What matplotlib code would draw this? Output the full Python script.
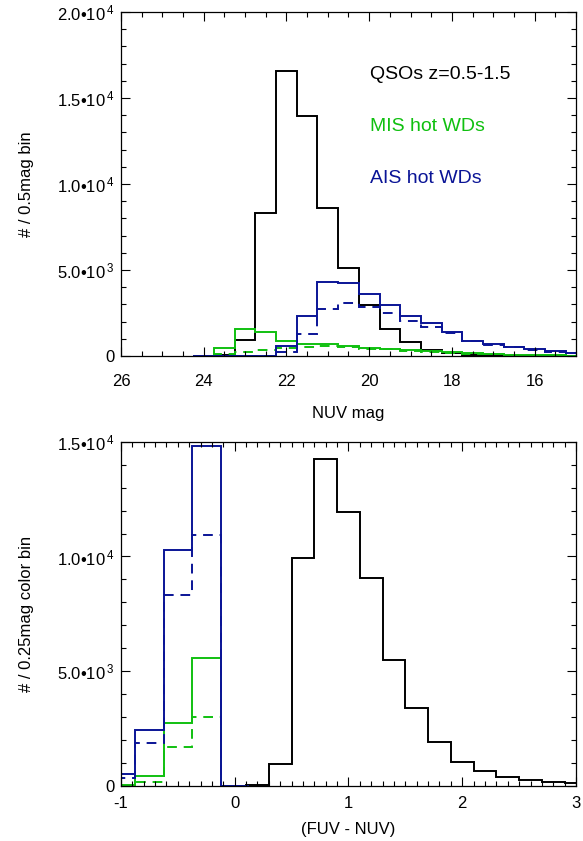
import numpy as np
import matplotlib
matplotlib.use('Agg')
import matplotlib.pyplot as plt
from matplotlib.ticker import FixedLocator, FixedFormatter, MultipleLocator

plt.rcParams['font.family'] = ['Liberation Sans', 'DejaVu Sans']
plt.rcParams['mathtext.fontset'] = 'custom'
plt.rcParams['mathtext.rm'] = 'Liberation Sans'
plt.rcParams['mathtext.it'] = 'Liberation Sans'

BLACK = 'black'
GREEN = '#10c010'
BLUE = '#0a1496'

# top panel: NUV mag, 0.5 mag bins (bin centres)
nuv_centres = [24.0, 23.5, 23.0, 22.5, 22.0, 21.5, 21.0, 20.5, 20.0, 19.5,
               19.0, 18.5, 18.0, 17.5, 17.0, 16.5, 16.0, 15.5, 15.0]
nuv_qso = [0, 50, 930, 8300, 16600, 13950, 8600, 5100, 2950, 1550,
           810, 350, 155, 60, 30, 15, 5, 0, 0]
nuv_mis = [0, 480, 1550, 1370, 870, 700, 680, 580, 470, 425,
           350, 290, 215, 155, 116, 77, 60, 40, 20]
nuv_mis_dash = [0, 100, 250, 350, 445, 500, 560, 500, 400, 380,
                310, 250, 190, 140, 100, 70, 50, 35, 20]
nuv_ais = [0, 0, 0, 0, 580, 2340, 4320, 4260, 3600, 2960,
           2340, 1940, 1410, 890, 700, 540, 390, 290, 190]
nuv_ais_dash = [0, 0, 0, 0, 230, 1280, 2710, 3110, 2860, 2480,
                2030, 1660, 1320, 890, 640, 500, 350, 260, 160]

# bottom panel: FUV-NUV colour
qso_col_centres = [0.0, 0.2, 0.4, 0.6, 0.8, 1.0, 1.2, 1.4, 1.6, 1.8,
                   2.0, 2.2, 2.4, 2.6, 2.8, 3.0]
qso_col = [0, 30, 940, 9930, 14230, 11920, 9060, 5510, 3390, 1930,
           1030, 650, 380, 260, 170, 115]
wd_col_centres = [-1.0, -0.75, -0.5, -0.25, 0.0]
ais_col = [520, 2435, 10280, 14830, 0]
ais_col_dash = [360, 1860, 8320, 10930, 0]
mis_col = [60, 435, 2750, 5580, 0]
mis_col_dash = [20, 190, 1700, 3010, 0]


def hist(ax, centres, vals, width, color, ls='-'):
    c = np.asarray(centres, float)
    v = np.asarray(vals, float)
    o = np.argsort(c)
    c, v = c[o], v[o]
    edges = np.append(c - width / 2, c[-1] + width / 2)
    st = ax.stairs(v, edges, color=color, lw=1.4, baseline=0)
    if ls != '-':
        st.set_linestyle((0, (5, 3.5)))


def style(ax, xpad):
    ax.tick_params(which='both', direction='in', top=True, right=True,
                   labelsize=12)
    ax.tick_params(which='major', length=6.5, width=0.8)
    ax.tick_params(axis='x', which='major', pad=xpad)
    ax.tick_params(axis='y', which='major', pad=4.5)
    ax.tick_params(which='minor', length=3.5, width=0.8)
    for s in ax.spines.values():
        s.set_linewidth(0.9)


fig = plt.figure(figsize=(5.83, 8.41), dpi=100)

ax1 = fig.add_axes([0.2075, 0.5767, 0.7805, 0.409])
hist(ax1, nuv_centres, nuv_qso, 0.5, BLACK)
hist(ax1, nuv_centres, nuv_mis_dash, 0.5, GREEN, '--')
hist(ax1, nuv_centres, nuv_mis, 0.5, GREEN)
hist(ax1, nuv_centres, nuv_ais_dash, 0.5, BLUE, '--')
hist(ax1, nuv_centres, nuv_ais, 0.5, BLUE)
ax1.set_xlim(26, 15)
ax1.set_ylim(0, 20000)
ax1.xaxis.set_major_locator(FixedLocator([26, 24, 22, 20, 18, 16]))
ax1.xaxis.set_minor_locator(MultipleLocator(0.5))
yt = [0, 5000, 10000, 15000, 20000]
ax1.yaxis.set_major_locator(FixedLocator(yt))
ax1.yaxis.set_major_formatter(FixedFormatter(
    ['0', '5.0•10$\\,^{3}$', '1.0•10$\\,^{4}$', '1.5•10$\\,^{4}$',
     '2.0•10$\\,^{4}$']))
ax1.yaxis.set_minor_locator(MultipleLocator(1000))
style(ax1, 13)
ax1.set_xlabel('NUV mag', fontsize=12, labelpad=12)
ax1.set_ylabel('# / 0.5mag bin', fontsize=12, labelpad=16)
ax1.text(0.547, 0.817, 'QSOs z=0.5-1.5', color=BLACK, fontsize=14,
         transform=ax1.transAxes, va='center')
ax1.text(0.547, 0.666, 'MIS hot WDs', color=GREEN, fontsize=14,
         transform=ax1.transAxes, va='center')
ax1.text(0.547, 0.517, 'AIS hot WDs', color=BLUE, fontsize=14,
         transform=ax1.transAxes, va='center')

ax2 = fig.add_axes([0.2075, 0.0654, 0.7805, 0.4094])
hist(ax2, qso_col_centres, qso_col, 0.2, BLACK)
hist(ax2, wd_col_centres, mis_col_dash, 0.25, GREEN, '--')
hist(ax2, wd_col_centres, mis_col, 0.25, GREEN)
hist(ax2, wd_col_centres, ais_col_dash, 0.25, BLUE, '--')
hist(ax2, wd_col_centres, ais_col, 0.25, BLUE)
ax2.set_xlim(-1, 3)
ax2.set_ylim(0, 15000)
ax2.xaxis.set_major_locator(FixedLocator([-1, 0, 1, 2, 3]))
ax2.xaxis.set_major_formatter(FixedFormatter(['-1', '0', '1', '2', '3']))
ax2.xaxis.set_minor_locator(MultipleLocator(0.1))
ax2.yaxis.set_major_locator(FixedLocator([0, 5000, 10000, 15000]))
ax2.yaxis.set_major_formatter(FixedFormatter(
    ['0', '5.0•10$\\,^{3}$', '1.0•10$\\,^{4}$', '1.5•10$\\,^{4}$']))
ax2.yaxis.set_minor_locator(MultipleLocator(1000))
style(ax2, 7)
ax2.set_xlabel('(FUV - NUV)', fontsize=12, labelpad=8)
ax2.set_ylabel('# / 0.25mag color bin', fontsize=12, labelpad=16)

fig.savefig('out.png', dpi=100)
